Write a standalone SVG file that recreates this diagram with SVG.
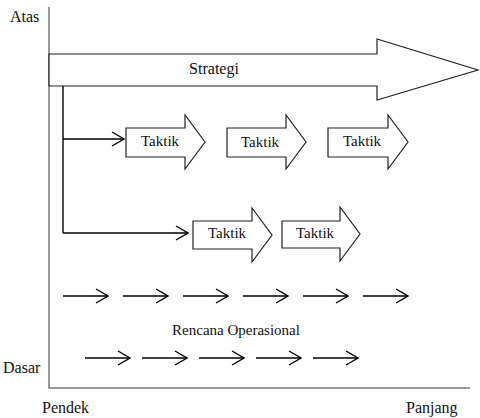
<svg xmlns="http://www.w3.org/2000/svg" width="480" height="418" viewBox="0 0 480 418">
<defs>
<marker id="open" viewBox="0 0 14 16" refX="13" refY="8" markerWidth="14" markerHeight="16" markerUnits="userSpaceOnUse" orient="auto">
<path d="M1,1 L13,8 L1,15" fill="none" stroke="#000" stroke-width="1.4"/>
</marker>
<style>
text{font-family:"Liberation Serif","Times New Roman","DejaVu Serif",serif;fill:#111}
.t{font-size:15px}
.ax{font-size:16px}
.blk{fill:#fff;stroke:#222;stroke-width:1.2}
.axis{stroke:#777;stroke-width:1.5;fill:none}
.con{stroke:#000;stroke-width:1.4;fill:none}
.op{stroke:#000;stroke-width:1.4;fill:none;marker-end:url(#open)}
</style>
</defs>
<rect width="480" height="418" fill="#fff"/>
<g id="axes">
<path class="axis" d="M49,7 V388 H470"/>
<text class="ax" x="10" y="22" font-family="Liberation Serif, serif">Atas</text>
<text class="ax" x="3" y="373" font-family="Liberation Serif, serif">Dasar</text>
<text class="ax" x="42" y="413" font-family="Liberation Serif, serif">Pendek</text>
<text class="ax" x="406" y="413" font-family="Liberation Serif, serif">Panjang</text>
</g>
<g id="strategi">
<polygon class="blk" points="49,54 377,54 377,39 478,70 377,100 377,86 49,86"/>
<text class="ax" x="214" y="74" text-anchor="middle" font-family="Liberation Serif, serif">Strategi</text>
</g>
<g id="taktik1">
<polygon class="blk" points="126,128 185,128 185,115 205,142 185,169 185,157 126,157"/>
<text class="t" x="160" y="146" text-anchor="middle" font-family="Liberation Serif, serif">Taktik</text>
</g>
<g id="taktik2">
<polygon class="blk" points="227,128 286,128 286,115 306,142 286,169 286,157 227,157"/>
<text class="t" x="260" y="147" text-anchor="middle" font-family="Liberation Serif, serif">Taktik</text>
</g>
<g id="taktik3">
<polygon class="blk" points="328,128 388,128 388,115 408,142 388,169 388,157 328,157"/>
<text class="t" x="362" y="146" text-anchor="middle" font-family="Liberation Serif, serif">Taktik</text>
</g>
<g id="taktik4">
<polygon class="blk" points="193,221 252,221 252,208 272,235 252,262 252,249 193,249"/>
<text class="t" x="227" y="238" text-anchor="middle" font-family="Liberation Serif, serif">Taktik</text>
</g>
<g id="taktik5">
<polygon class="blk" points="282,221 340,221 340,207 360,234 340,261 340,248 282,248"/>
<text class="t" x="315" y="238" text-anchor="middle" font-family="Liberation Serif, serif">Taktik</text>
</g>
<g id="operasional">
<text class="t" x="236" y="335" text-anchor="middle" font-family="Liberation Serif, serif">Rencana Operasional</text>
</g>
<g id="connectors">
<path class="con" d="M63,86 V233"/>
<path class="op" d="M63,139 H124"/>
<path class="op" d="M63,233 H188"/>
<path class="op" d="M63,296 H108"/>
<path class="op" d="M123,296 H168"/>
<path class="op" d="M183,296 H228"/>
<path class="op" d="M243,296 H288"/>
<path class="op" d="M303,296 H348"/>
<path class="op" d="M363,296 H408"/>
<path class="op" d="M85,358 H130"/>
<path class="op" d="M142,358 H187"/>
<path class="op" d="M199,358 H244"/>
<path class="op" d="M256,358 H301"/>
<path class="op" d="M313,358 H358"/>
</g>
</svg>
